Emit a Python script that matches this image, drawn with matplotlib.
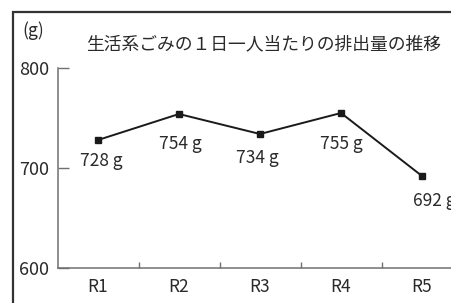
"""
生活系ごみの1日一人当たりの排出量の推移 — line chart, R1..R5.
Output: out.png (451x303)
"""

import matplotlib.pyplot as plt
from matplotlib.patches import Rectangle

plt.rcParams["font.family"] = ["Noto Sans CJK JP", "DejaVu Sans"]

# ── Data ──────────────────────────────────────────────────────────────────────
years = ["R1", "R2", "R3", "R4", "R5"]
grams = [728, 754, 734, 755, 692]
yticks = [600, 700, 800]

# label offsets from each point (pixels, baseline of text)
label_dx = [3, 1, -3, 0, 12]
label_dy = [-26, -35, -29, -36, -30]

C_TEXT = "#2a2a2a"
C_AXIS = "#707070"
C_LINE = "#1a1a1a"

fig = plt.figure(figsize=(4.51, 3.03), dpi=100)
fig.patch.set_facecolor("white")

# outer frame (runs off the right and bottom edge)
fig.patches.append(Rectangle((12.5 / 451, -0.1), 1.2, (303 - 11.5) / 303 + 0.1,
                             transform=fig.transFigure, fill=False,
                             edgecolor="#333333", linewidth=1.6))

ax = fig.add_axes([57.5 / 451, 35 / 303, 405 / 451, 200 / 303])
ax.set_facecolor("none")

x = list(range(len(years)))
ax.plot(x, grams, color=C_LINE, linewidth=1.4, marker="s", markersize=5,
        clip_on=False, zorder=3)

for xi, v, dx, dy in zip(x, grams, label_dx, label_dy):
    ax.annotate(f"{v} g", xy=(xi, v), xytext=(dx, dy), textcoords="offset pixels",
                ha="center", va="baseline", fontsize=12.5, color=C_TEXT,
                annotation_clip=False)

ax.set_xlim(-0.5, len(years) - 0.5)
ax.set_ylim(600, 800)
ax.set_yticks(yticks)
ax.set_yticklabels([str(t) for t in yticks], fontsize=13, color=C_TEXT)
ax.set_xticks(x)
ax.set_xticklabels(years, fontsize=12.5, color=C_TEXT)
ax.set_xticks([i + 0.5 for i in x[:-1]], minor=True)

ax.tick_params(axis="x", which="major", length=0, pad=7)
ax.tick_params(axis="x", which="minor", direction="in", length=4,
               width=1, color=C_AXIS)
ax.tick_params(axis="y", direction="in", length=8, width=1, color=C_AXIS, pad=6)

ax.spines[["top", "right"]].set_visible(False)
for s in ("left", "bottom"):
    ax.spines[s].set_color(C_AXIS)
    ax.spines[s].set_linewidth(1.1)

fig.text(22 / 451, 1 - 31 / 303, "(g)", ha="left", va="center",
         fontsize=12.5, color=C_TEXT)
fig.text(86 / 451, 1 - 44 / 303, "生活系ごみの１日一人当たりの排出量の推移",
         ha="left", va="center", fontsize=12.8, color=C_TEXT)

fig.savefig("out.png", dpi=100, facecolor="white")
